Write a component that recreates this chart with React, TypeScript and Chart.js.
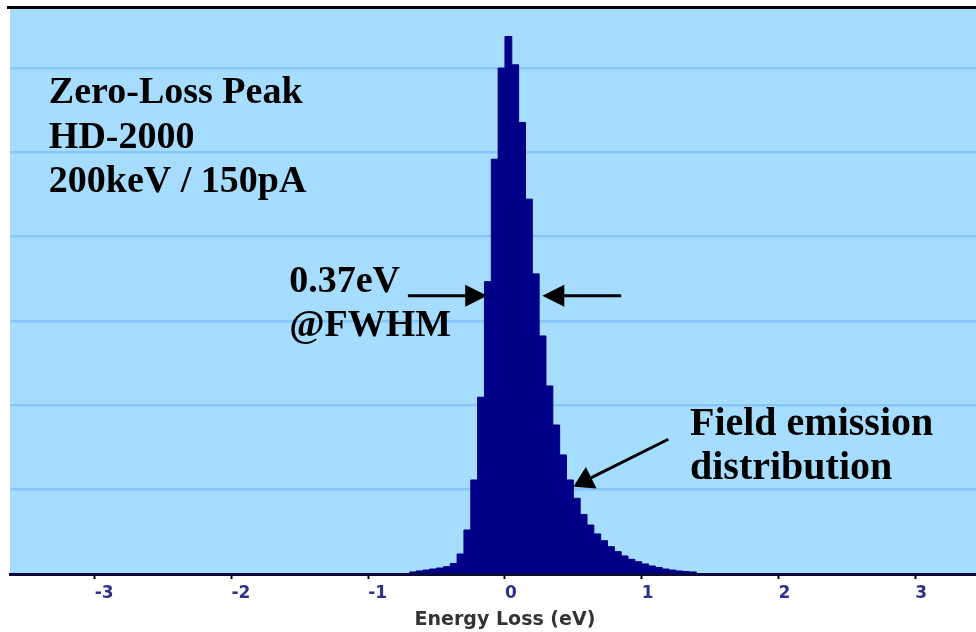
import React, { useEffect, useRef } from "react";
import { Chart, registerables } from "chart.js";

Chart.register(...registerables);

// ---- Data (energy loss histogram, bin left edges in eV; last edge closes the final bin)
const binEdges = [
  -0.70, -0.65, -0.60, -0.55, -0.50, -0.45, -0.40, -0.35, -0.30, -0.25, -0.20, -0.15, -0.10, -0.05,
  0.00, 0.05, 0.10, 0.15, 0.20, 0.25, 0.30, 0.35, 0.40, 0.45, 0.50, 0.55, 0.60, 0.65,
  0.70, 0.75, 0.80, 0.85, 0.90, 0.95, 1.00, 1.05, 1.10, 1.15, 1.20, 1.25, 1.30, 1.35, 1.40,
];
const counts = [
  0.024, 0.036, 0.047, 0.059, 0.071, 0.087, 0.125, 0.237, 0.522, 1.115, 2.096, 3.467, 4.919, 5.999,
  6.374, 6.038, 5.354, 4.445, 3.559, 2.823, 2.230, 1.767, 1.412, 1.115, 0.898, 0.706, 0.581, 0.475,
  0.395, 0.324, 0.265, 0.214, 0.174, 0.146, 0.119, 0.095, 0.077, 0.059, 0.047, 0.036, 0.030, 0.024,
];
const xTickValues = [-3, -2, -1, 0, 1, 2, 3];
const yGridValues = [0, 1, 2, 3, 4, 5, 6];
const xMin = -3.62;
const xMax = 3.445;
const yMax = 6.7;
const xTitle = "Energy Loss (eV)";
const xTitleCenter = 0; // eV position under which the axis title is centred

// ---- Annotations (data coordinates: x in eV, y in histogram units)
const infoLines = ["Zero-Loss Peak", "HD-2000", "200keV / 150pA"];
const infoX = -3.336;
const infoY = [5.591, 5.05, 4.535];
const fwhmLines = ["0.37eV", "@FWHM"];
const fwhmTextX = -1.578;
const fwhmTextY = [3.349, 2.823];
const fwhmArrowY = 3.3;
const fwhmLeftArrow = [-0.71, -0.13];
const fwhmRightArrow = [0.85, 0.273];
const fieldLines = ["Field emission", "distribution"];
const fieldTextX = 1.353;
const fieldTextY = [1.649, 1.123];
const fieldArrowFrom = [1.195, 1.598];
const fieldArrowTo = [0.5, 1.036];

const BG = "#a6dcfe";
const GRID = "#86c6f8";
const NAVY = "#000088";

function drawArrow(
  ctx: CanvasRenderingContext2D,
  x1: number, y1: number, x2: number, y2: number,
  headLen: number, headHalf: number
) {
  const ang = Math.atan2(y2 - y1, x2 - x1);
  const c = Math.cos(ang), s = Math.sin(ang);
  const bx = x2 - headLen * c, by = y2 - headLen * s;
  ctx.beginPath();
  ctx.moveTo(x1, y1);
  ctx.lineTo(bx + c, by + s);
  ctx.stroke();
  ctx.beginPath();
  ctx.moveTo(x2, y2);
  ctx.lineTo(bx - headHalf * s, by + headHalf * c);
  ctx.lineTo(bx + headHalf * s, by - headHalf * c);
  ctx.closePath();
  ctx.fill();
}

const decorPlugin = {
  id: "decor",
  beforeDraw(chart: any) {
    const { ctx, chartArea } = chart;
    const { left, top, right, bottom } = chartArea;
    ctx.save();
    ctx.fillStyle = BG;
    ctx.fillRect(left, top, right - left, bottom - top);
    ctx.strokeStyle = "#000";
    ctx.lineWidth = 3;
    ctx.beginPath();
    ctx.moveTo(left - 3, top - 1.5);
    ctx.lineTo(right, top - 1.5);
    ctx.stroke();
    ctx.restore();
  },
  afterDatasetsDraw(chart: any) {
    const { ctx } = chart;
    const xs = chart.scales.x;
    const ys = chart.scales.y;
    const px = (v: number) => xs.getPixelForValue(v);
    const py = (v: number) => ys.getPixelForValue(v);
    ctx.save();
    ctx.fillStyle = "#000";
    ctx.strokeStyle = "#000";
    ctx.textAlign = "left";
    ctx.textBaseline = "alphabetic";
    ctx.font = 'bold 38px "Liberation Serif"';
    infoLines.forEach((t, i) => ctx.fillText(t, px(infoX), py(infoY[i])));
    fwhmLines.forEach((t, i) => ctx.fillText(t, px(fwhmTextX), py(fwhmTextY[i])));
    ctx.font = 'bold 40px "Liberation Serif"';
    fieldLines.forEach((t, i) => ctx.fillText(t, px(fieldTextX), py(fieldTextY[i])));

    ctx.lineWidth = 3;
    ctx.lineCap = "butt";
    drawArrow(ctx, px(fwhmLeftArrow[0]), py(fwhmArrowY), px(fwhmLeftArrow[1]), py(fwhmArrowY), 22, 11);
    drawArrow(ctx, px(fwhmRightArrow[0]), py(fwhmArrowY), px(fwhmRightArrow[1]), py(fwhmArrowY), 22, 11);
    drawArrow(ctx, px(fieldArrowFrom[0]), py(fieldArrowFrom[1]), px(fieldArrowTo[0]), py(fieldArrowTo[1]), 20, 12);

    // x-axis title, centred under 0 eV
    ctx.fillStyle = "#333333";
    ctx.font = 'bold 19px "DejaVu Sans"';
    ctx.textAlign = "center";
    ctx.textBaseline = "middle";
    ctx.fillText(xTitle, px(xTitleCenter), chart.height - 12);
    ctx.restore();
  },
};

export default function App() {
  const ref = useRef<HTMLCanvasElement | null>(null);

  useEffect(() => {
    if (!ref.current) return;
    const points = binEdges.map((e, i) => ({ x: e, y: i < counts.length ? counts[i] : 0 }));
    const chart = new Chart(ref.current, {
      type: "line",
      data: {
        datasets: [
          {
            data: points,
            stepped: "before",
            fill: "origin",
            backgroundColor: NAVY,
            borderColor: NAVY,
            borderWidth: 1,
            pointRadius: 0,
          } as any,
        ],
      },
      options: {
        animation: false,
        responsive: false,
        maintainAspectRatio: false,
        layout: { padding: { left: 10, top: 9, right: 0, bottom: 24.6 } },
        plugins: { legend: { display: false }, tooltip: { enabled: false } },
        scales: {
          x: {
            type: "linear",
            min: xMin,
            max: xMax,
            position: "bottom",
            afterBuildTicks: (s: any) => {
              s.ticks = xTickValues.map((v) => ({ value: v }));
            },
            ticks: {
              align: "start",
              padding: 4,
              color: "#30308a",
              autoSkip: false,
              maxRotation: 0,
              font: { family: "DejaVu Sans", weight: "bold", size: 17 },
              callback: (v: any) => String(v),
            },
            grid: { drawOnChartArea: false, drawTicks: true, tickLength: 5, tickColor: "#000", tickWidth: 2 },
            border: { display: true, color: "#0a0a3c", width: 3, z: 1 },
            title: { display: false },
          },
          y: {
            type: "linear",
            min: 0,
            max: yMax,
            display: true,
            afterBuildTicks: (s: any) => {
              s.ticks = yGridValues.map((v) => ({ value: v }));
            },
            ticks: { display: false },
            grid: { color: GRID, lineWidth: 2.5, drawTicks: false },
            border: { display: false },
          },
        },
      } as any,
      plugins: [decorPlugin],
    });
    return () => chart.destroy();
  }, []);

  return (
    <div style={{ position: "absolute", left: 0, top: 0, width: 976, height: 632, background: "#fff" }}>
      <canvas ref={ref} width={976} height={632} style={{ display: "block" }} />
    </div>
  );
}
